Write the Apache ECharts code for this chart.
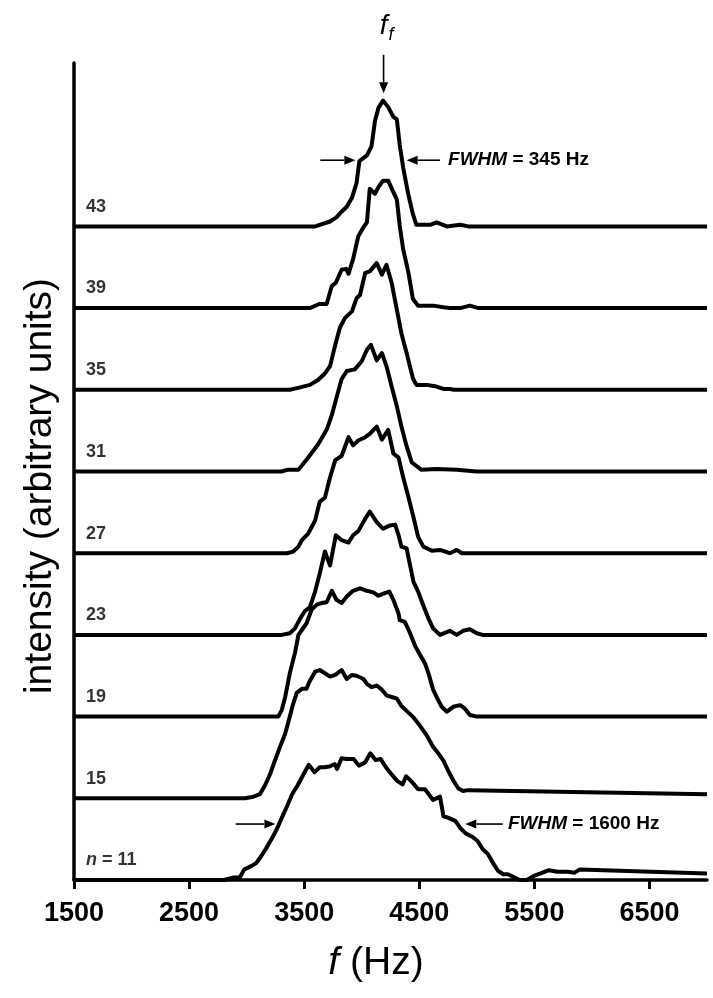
<!DOCTYPE html>
<html>
<head>
<meta charset="utf-8">
<title>Spectra vs n</title>
<script src="https://cdn.jsdelivr.net/npm/echarts@6/dist/echarts.min.js"></script>
<style>
  html, body { margin: 0; padding: 0; background: #fff; }
  #chart { width: 713px; height: 998px; }
</style>
</head>
<body>
<div id="chart"></div>
<script>
// frequency axis
const xMin = 1500
const xMax = 7000
const xTicks = [1500, 2500, 3500, 4500, 5500, 6500]

// run labels and vertical offset of each trace, bottom to top
const runLabels = ['n = 11', '15', '19', '23', '27', '31', '35', '39', '43']
const offsets = [0, 1, 2, 3, 4, 5, 6, 7, 8]

// spectra: frequency (Hz) / intensity (a.u.)
const f11 = [1500, 2720, 2805, 2880, 2940, 2980, 3040, 3085, 3130, 3175, 3220, 3265, 3305, 3350, 3395, 3440, 3485, 3540, 3590, 3635, 3675, 3720, 3765, 3785, 3825, 3870, 3930, 3975, 4030, 4075, 4120, 4165, 4210, 4255, 4310, 4355, 4385, 4430, 4490, 4550, 4620, 4680, 4710, 4755, 4815, 4860, 4905, 4960, 5005, 5050, 5095, 5140, 5185, 5230, 5270, 5330, 5375, 5435, 5495, 5555, 5625, 5700, 5790, 5850, 5895, 7000]
const i11 = [0, 0, 0, 0.03, 0.03, 0.13, 0.17, 0.21, 0.30, 0.40, 0.51, 0.63, 0.76, 0.90, 1.05, 1.15, 1.27, 1.41, 1.32, 1.38, 1.38, 1.39, 1.42, 1.36, 1.49, 1.48, 1.48, 1.40, 1.44, 1.55, 1.47, 1.48, 1.38, 1.30, 1.21, 1.17, 1.27, 1.21, 1.11, 1.11, 0.98, 1.02, 0.78, 0.76, 0.72, 0.63, 0.57, 0.53, 0.48, 0.38, 0.32, 0.21, 0.11, 0.07, 0.07, 0.03, 0, 0, 0.05, 0.08, 0.12, 0.10, 0.10, 0.09, 0.13, 0.08]

const f15 = [1500, 2985, 3060, 3115, 3160, 3205, 3245, 3290, 3335, 3375, 3405, 3435, 3480, 3520, 3550, 3595, 3635, 3680, 3725, 3770, 3825, 3870, 3915, 3955, 4015, 4045, 4085, 4130, 4175, 4215, 4260, 4305, 4345, 4390, 4450, 4505, 4565, 4620, 4665, 4710, 4750, 4795, 4840, 4880, 4925, 7000]
const i15 = [0, 0, 0.02, 0.05, 0.16, 0.30, 0.46, 0.63, 0.79, 1.00, 1.16, 1.29, 1.34, 1.34, 1.44, 1.55, 1.57, 1.53, 1.49, 1.51, 1.57, 1.46, 1.51, 1.50, 1.46, 1.40, 1.36, 1.38, 1.33, 1.26, 1.24, 1.22, 1.13, 1.07, 0.99, 0.89, 0.77, 0.63, 0.55, 0.46, 0.34, 0.22, 0.12, 0.09, 0.10, 0.05]

const f19 = [1500, 3275, 3305, 3335, 3375, 3420, 3450, 3480, 3520, 3565, 3610, 3650, 3695, 3740, 3780, 3825, 3870, 3925, 3985, 4045, 4100, 4145, 4200, 4240, 4275, 4320, 4330, 4375, 4420, 4465, 4505, 4550, 4580, 4620, 4665, 4695, 4740, 4795, 4855, 4895, 4940, 5000, 7000]
const i19 = [0, 0, 0.08, 0.24, 0.53, 0.78, 1.00, 1.06, 1.14, 1.31, 1.37, 1.39, 1.40, 1.54, 1.43, 1.39, 1.47, 1.54, 1.57, 1.54, 1.52, 1.48, 1.51, 1.53, 1.43, 1.26, 1.18, 1.16, 1.02, 0.86, 0.76, 0.65, 0.53, 0.33, 0.20, 0.12, 0.06, 0.12, 0.14, 0.10, 0.02, 0, 0]

const f23 = [1500, 3305, 3375, 3420, 3465, 3505, 3550, 3595, 3635, 3680, 3725, 3775, 3825, 3885, 3925, 3970, 4030, 4070, 4130, 4185, 4245, 4290, 4320, 4345, 4390, 4420, 4450, 4490, 4535, 4580, 4620, 4680, 4765, 4825, 4880, 4940, 5000, 5050, 7000]
const i23 = [0, 0, 0.02, 0.08, 0.20, 0.29, 0.34, 0.53, 0.75, 1.02, 0.85, 1.22, 1.16, 1.13, 1.22, 1.27, 1.42, 1.51, 1.38, 1.30, 1.34, 1.35, 1.22, 1.08, 1.06, 0.85, 0.65, 0.53, 0.36, 0.20, 0.08, 0, 0.05, 0, 0.05, 0.07, 0.02, 0, 0]

const f27 = [1500, 3350, 3405, 3450, 3480, 3535, 3595, 3635, 3680, 3725, 3770, 3825, 3885, 3925, 3970, 4030, 4070, 4130, 4175, 4230, 4275, 4320, 4360, 4405, 4450, 4490, 4535, 4610, 4680, 4765, 4825, 4870, 7000]
const i27 = [0, 0, 0.02, 0.08, 0.16, 0.24, 0.40, 0.63, 0.68, 0.93, 1.14, 1.19, 1.42, 1.32, 1.38, 1.42, 1.46, 1.55, 1.39, 1.51, 1.22, 1.17, 0.93, 0.69, 0.44, 0.20, 0.08, 0.03, 0.04, 0, 0.04, 0, 0]

const f31 = [1500, 3305, 3350, 3450, 3550, 3620, 3695, 3740, 3780, 3825, 3870, 3940, 4000, 4045, 4080, 4130, 4175, 4215, 4260, 4305, 4345, 4390, 4435, 4520, 4650, 4825, 5000, 7000]
const i31 = [0, 0, 0.02, 0.02, 0.20, 0.33, 0.51, 0.69, 0.90, 1.13, 1.23, 1.25, 1.35, 1.49, 1.55, 1.36, 1.45, 1.29, 1.04, 0.80, 0.55, 0.31, 0.11, 0.02, 0.03, 0.02, 0, 0]

const f35 = [1500, 3375, 3465, 3550, 3620, 3680, 3725, 3770, 3810, 3855, 3915, 3955, 3985, 4030, 4070, 4130, 4175, 4215, 4260, 4305, 4345, 4390, 4445, 4475, 4565, 4650, 4710, 4765, 4800, 7000]
const i35 = [0, 0, 0.03, 0.06, 0.12, 0.20, 0.29, 0.55, 0.76, 0.88, 0.96, 1.12, 1.16, 1.43, 1.45, 1.55, 1.41, 1.53, 1.31, 0.98, 0.69, 0.45, 0.14, 0.06, 0.06, 0.04, 0.01, 0.01, 0, 0]

const f39 = [1500, 3550, 3630, 3695, 3740, 3775, 3825, 3865, 3885, 3925, 3970, 4015, 4045, 4070, 4115, 4145, 4185, 4230, 4275, 4305, 4330, 4360, 4405, 4445, 4490, 4620, 4710, 4765, 4855, 4940, 5015, 7000]
const i39 = [0, 0, 0.05, 0.05, 0.27, 0.31, 0.47, 0.48, 0.42, 0.60, 0.88, 0.99, 1.05, 1.46, 1.40, 1.48, 1.56, 1.56, 1.42, 1.33, 1.01, 0.72, 0.44, 0.11, 0.03, 0.03, 0.01, 0, 0, 0.03, 0, 0]

const f43 = [1500, 3595, 3725, 3780, 3825, 3870, 3915, 3955, 3980, 4045, 4085, 4115, 4145, 4185, 4230, 4275, 4305, 4330, 4360, 4405, 4445, 4475, 4595, 4650, 4740, 4855, 4925, 7000]
const i43 = [0, 0, 0.06, 0.11, 0.18, 0.24, 0.35, 0.53, 0.80, 0.87, 0.98, 1.29, 1.45, 1.54, 1.46, 1.34, 1.31, 1.00, 0.72, 0.39, 0.15, 0.02, 0.02, 0.05, 0, 0.02, 0, 0]

const freqs = [f11, f15, f19, f23, f27, f31, f35, f39, f43]
const intens = [i11, i15, i19, i23, i27, i31, i35, i39, i43]

const FONT = "'Liberation Sans', Arial, sans-serif"

const chart = echarts.init(document.getElementById('chart'))

// one line per run, lifted by its offset
const traceSeries = freqs.map((fs, k) => ({
  type: 'line',
  data: fs.map((f, i) => [f, offsets[k] + intens[k][i]]),
  symbol: 'none',
  silent: true,
  lineStyle: { color: '#000', width: 4, join: 'round' }
}))

// run number written just above each baseline
const labelSeries = {
  type: 'scatter',
  symbolSize: 1,
  itemStyle: { color: 'transparent' },
  silent: true,
  data: offsets.map(o => [1600, o + 0.24]),
  label: {
    show: true,
    position: 'right',
    distance: 0,
    color: '#000',
    fontFamily: FONT,
    fontWeight: 'bold',
    fontSize: 18,
    formatter: p => runLabels[p.dataIndex].replace(/^n/, '{i|n}'),
    rich: {
      i: { fontFamily: FONT, fontWeight: 'bold', fontStyle: 'italic', fontSize: 18, color: '#000' }
    }
  }
}

chart.setOption({
  animation: false,
  backgroundColor: '#fff',
  grid: { left: 74, right: 6, top: 63, bottom: 118 },
  xAxis: {
    type: 'value',
    min: xMin,
    max: xMax,
    name: '{i|f} (Hz)',
    nameLocation: 'middle',
    nameGap: 64,
    nameTextStyle: {
      fontFamily: FONT,
      fontSize: 39,
      color: '#000',
      padding: [0, 29, 0, 0],
      rich: { i: { fontFamily: FONT, fontSize: 39, fontStyle: 'italic', color: '#000' } }
    },
    axisLine: { lineStyle: { color: '#000', width: 3.5 } },
    axisTick: { show: true, length: 9, lineStyle: { color: '#000', width: 3 }, customValues: xTicks },
    axisLabel: {
      customValues: xTicks,
      formatter: v => String(v),
      margin: 20,
      color: '#000',
      fontFamily: FONT,
      fontWeight: 'bold',
      fontSize: 27
    },
    splitLine: { show: false }
  },
  yAxis: {
    type: 'value',
    min: 0,
    max: 10,
    name: 'intensity (arbitrary units)',
    nameLocation: 'middle',
    nameGap: 14,
    nameTextStyle: { fontFamily: FONT, fontSize: 39, color: '#000', padding: [0, 29, 0, 0] },
    axisLine: { show: true, lineStyle: { color: '#000', width: 3.5 } },
    axisTick: { show: false },
    axisLabel: { show: false },
    splitLine: { show: false }
  },
  series: [...traceSeries, labelSeries]
})

// annotations placed in data coordinates
const px = p => chart.convertToPixel({ gridIndex: 0 }, p)

function arrow(from, to) {
  const a = px(from)
  const b = px(to)
  const dx = b[0] - a[0]
  const dy = b[1] - a[1]
  const len = Math.hypot(dx, dy)
  const ux = dx / len
  const uy = dy / len
  const hl = 11
  const hw = 4.5
  const bx = b[0] - ux * hl
  const by = b[1] - uy * hl
  return [
    { type: 'line', silent: true, shape: { x1: a[0], y1: a[1], x2: bx, y2: by }, style: { stroke: '#000', lineWidth: 1.6 } },
    { type: 'polygon', silent: true, shape: { points: [[b[0], b[1]], [bx - uy * hw, by + ux * hw], [bx + uy * hw, by - ux * hw]] }, style: { fill: '#000' } }
  ]
}

function label(at, text, size) {
  const p = px(at)
  return {
    type: 'text',
    silent: true,
    x: p[0],
    y: p[1],
    style: {
      text: text,
      fill: '#000',
      fontFamily: FONT,
      fontWeight: 'bold',
      fontSize: size,
      align: 'left',
      verticalAlign: 'middle',
      rich: { i: { fontFamily: FONT, fontWeight: 'bold', fontStyle: 'italic', fontSize: size, fill: '#000' } }
    }
  }
}

const ffMain = px([4190, 10.45])
const ffSub = px([4255, 10.34])

chart.setOption({
  graphic: [
    ...arrow([3640, 8.81], [3945, 8.81]),
    ...arrow([4680, 8.81], [4390, 8.81]),
    label([4750, 8.81], '{i|FWHM} = 345 Hz', 19),
    ...arrow([2905, 0.685], [3250, 0.685]),
    ...arrow([5225, 0.685], [4900, 0.685]),
    label([5270, 0.685], '{i|FWHM} = 1600 Hz', 19),
    ...arrow([4190, 10.1], [4190, 9.63]),
    {
      type: 'text', silent: true, x: ffMain[0], y: ffMain[1],
      style: { text: 'f', fill: '#000', fontFamily: FONT, fontStyle: 'italic', fontSize: 28, align: 'center', verticalAlign: 'middle' }
    },
    {
      type: 'text', silent: true, x: ffSub[0], y: ffSub[1],
      style: { text: 'f', fill: '#000', fontFamily: FONT, fontStyle: 'italic', fontSize: 18, align: 'center', verticalAlign: 'middle' }
    }
  ]
})

window.addEventListener('resize', () => chart.resize())
</script>
</body>
</html>
